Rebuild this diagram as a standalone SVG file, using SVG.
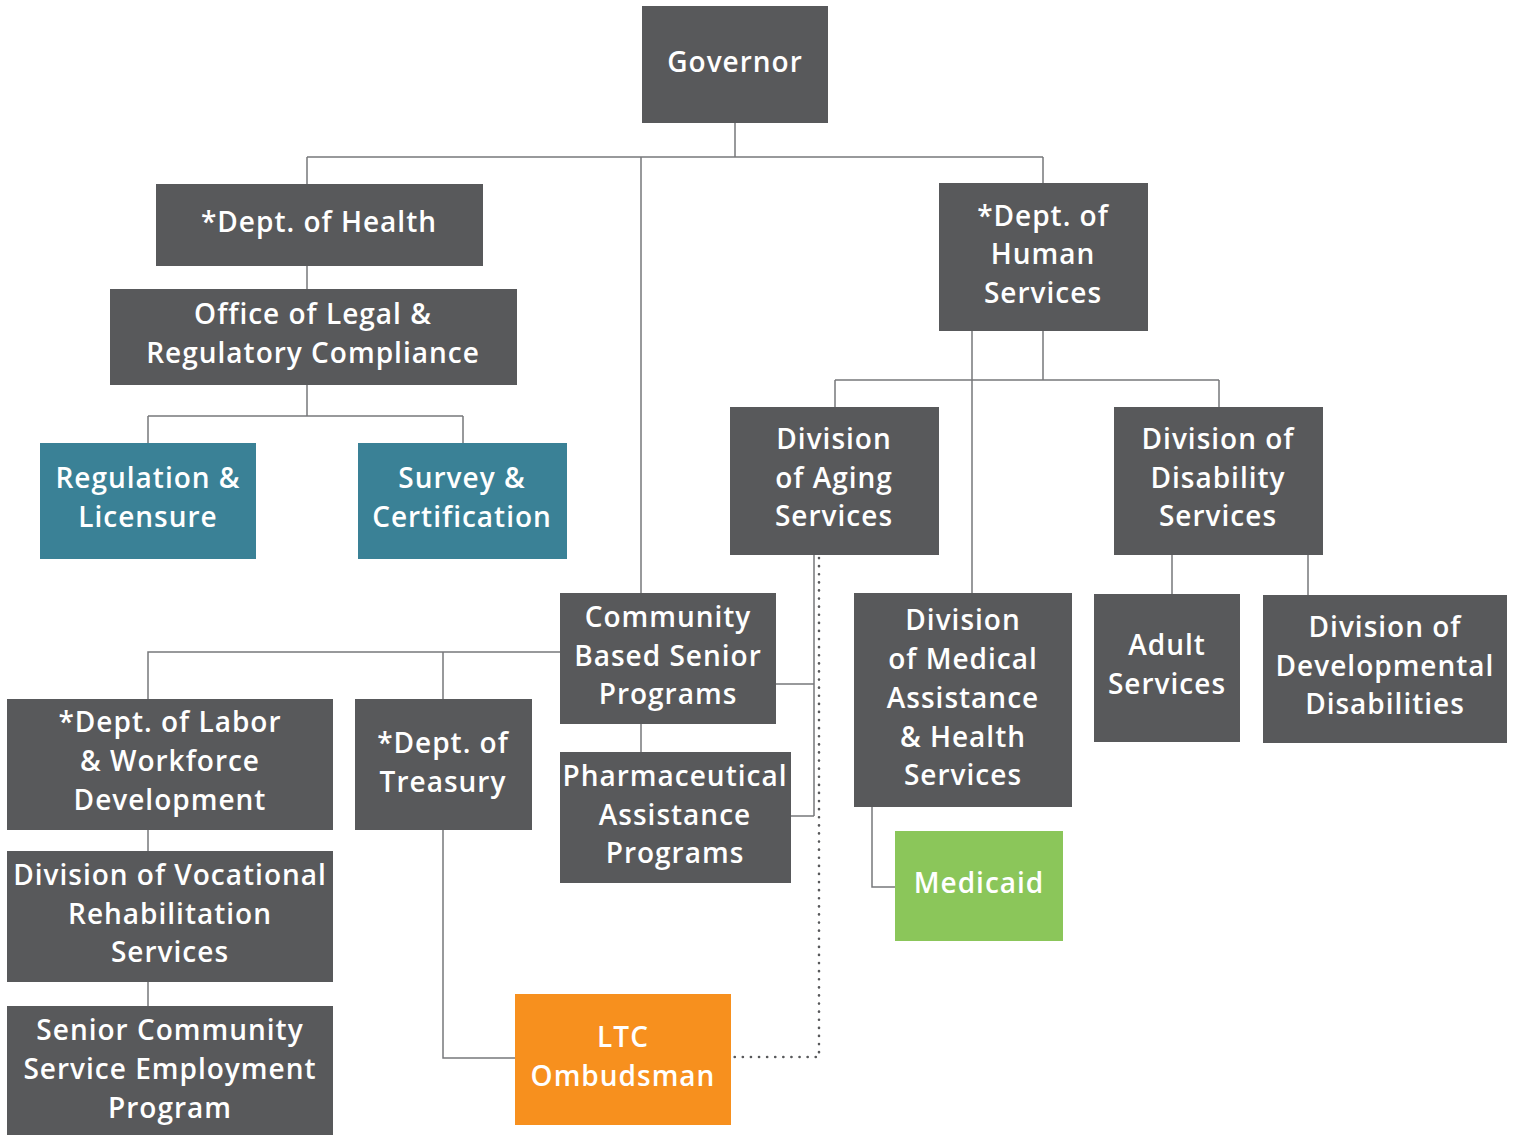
<svg xmlns="http://www.w3.org/2000/svg" width="1515" height="1135" viewBox="0 0 1515 1135">
<style>
.n{fill:#58595b}
.t{fill:#3a8196}
.g{fill:#8bc65a}
.o{fill:#f7901e}
text{font-family:"Open Sans","Noto Sans",sans-serif;font-size:28px;font-weight:600;fill:#fff;text-anchor:middle;dominant-baseline:central;letter-spacing:1px}
.c{stroke:#77787b;stroke-width:1.5;fill:none}
.d{stroke:#58595b;stroke-width:2.6;fill:none;stroke-dasharray:0.1 8;stroke-linecap:round}
</style>
<rect width="1515" height="1135" fill="#fff"/>
<g id="connectors">
<path class="c" d="M735 123V157M307 157H1043M307 157V184M1043 157V183M641 157V593"/>
<path class="c" d="M307 266V289M307 385V416M148 416H463M148 416V443M463 416V443"/>
<path class="c" d="M1043 331V380M835 380H1219M835 380V407M1219 380V407M972 331V593"/>
<path class="c" d="M1172 555V594M1308 555V595"/>
<path class="c" d="M872 807V887H895"/>
<path class="c" d="M814 555V816M776 684H814M791 816H814"/>
<path class="c" d="M560 652H148V699M443 652V699M641 724V752"/>
<path class="c" d="M148 830V851M148 982V1006"/>
<path class="c" d="M443 830V1058H515"/>
<path class="d" d="M819 558V1057H734"/>
</g>
<g id="governor"><rect class="n" x="642" y="6" width="186" height="117"/><text x="735" y="61">Governor</text></g>
<g id="dept-health"><rect class="n" x="156" y="184" width="327" height="82"/><text x="319" y="221">*Dept. of Health</text></g>
<g id="office-legal"><rect class="n" x="110" y="289" width="407" height="96"/><text x="313" y="313">Office of Legal &amp;</text><text x="313" y="352">Regulatory Compliance</text></g>
<g id="regulation"><rect class="t" x="40" y="443" width="216" height="116"/><text x="148" y="477">Regulation &amp;</text><text x="148" y="516">Licensure</text></g>
<g id="survey"><rect class="t" x="358" y="443" width="209" height="116"/><text x="462" y="477">Survey &amp;</text><text x="462" y="516">Certification</text></g>
<g id="dhs"><rect class="n" x="939" y="183" width="209" height="148"/><text x="1043" y="215">*Dept. of</text><text x="1043" y="253">Human</text><text x="1043" y="292">Services</text></g>
<g id="aging"><rect class="n" x="730" y="407" width="209" height="148"/><text x="834" y="438">Division</text><text x="834" y="477">of Aging</text><text x="834" y="515">Services</text></g>
<g id="disability"><rect class="n" x="1114" y="407" width="209" height="148"/><text x="1218" y="438">Division of</text><text x="1218" y="477">Disability</text><text x="1218" y="515">Services</text></g>
<g id="adult"><rect class="n" x="1094" y="594" width="146" height="148"/><text x="1167" y="644">Adult</text><text x="1167" y="683">Services</text></g>
<g id="devdis"><rect class="n" x="1263" y="595" width="244" height="148"/><text x="1385" y="626">Division of</text><text x="1385" y="665">Developmental</text><text x="1385" y="703">Disabilities</text></g>
<g id="medical"><rect class="n" x="854" y="593" width="218" height="214"/><text x="963" y="619">Division</text><text x="963" y="658">of Medical</text><text x="963" y="697">Assistance</text><text x="963" y="736">&amp; Health</text><text x="963" y="774">Services</text></g>
<g id="medicaid"><rect class="g" x="895" y="831" width="168" height="110"/><text x="979" y="882">Medicaid</text></g>
<g id="community"><rect class="n" x="560" y="593" width="216" height="131"/><text x="668" y="616">Community</text><text x="668" y="655">Based Senior</text><text x="668" y="693">Programs</text></g>
<g id="pharma"><rect class="n" x="560" y="752" width="231" height="131"/><text x="675" y="775">Pharmaceutical</text><text x="675" y="814">Assistance</text><text x="675" y="852">Programs</text></g>
<g id="labor"><rect class="n" x="7" y="699" width="326" height="131"/><text x="170" y="721">*Dept. of Labor</text><text x="170" y="760">&amp; Workforce</text><text x="170" y="799">Development</text></g>
<g id="vocrehab"><rect class="n" x="7" y="851" width="326" height="131"/><text x="170" y="874">Division of Vocational</text><text x="170" y="913">Rehabilitation</text><text x="170" y="951">Services</text></g>
<g id="scsep"><rect class="n" x="7" y="1006" width="326" height="129"/><text x="170" y="1029">Senior Community</text><text x="170" y="1068">Service Employment</text><text x="170" y="1107">Program</text></g>
<g id="treasury"><rect class="n" x="355" y="699" width="177" height="131"/><text x="443" y="742">*Dept. of</text><text x="443" y="781">Treasury</text></g>
<g id="ltc"><rect class="o" x="515" y="994" width="216" height="131"/><text x="623" y="1036">LTC</text><text x="623" y="1075">Ombudsman</text></g>
</svg>
